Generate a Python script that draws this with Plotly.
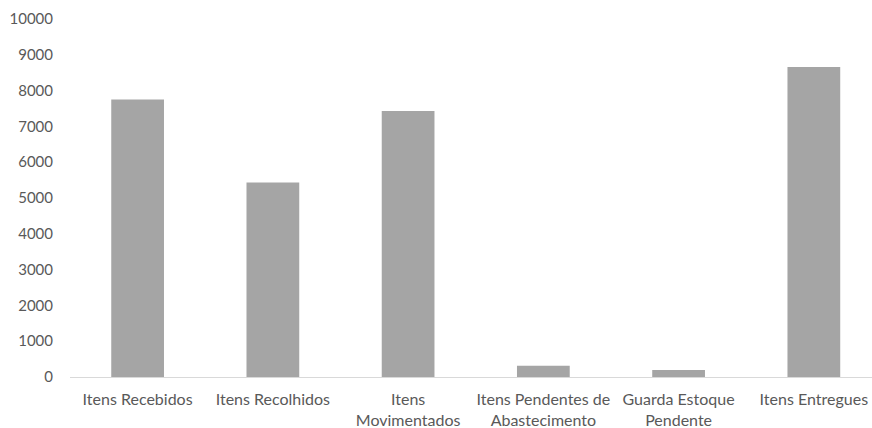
import plotly.graph_objects as go

categories = ["Itens Recebidos", "Itens Recolhidos", "Itens<br>Movimentados",
              "Itens Pendentes de<br>Abastecimento", "Guarda Estoque<br>Pendente", "Itens Entregues"]
values = [7750, 5430, 7430, 315, 195, 8660]
y_ticks = [0, 1000, 2000, 3000, 4000, 5000, 6000, 7000, 8000, 9000, 10000]
y_tick_text = [str(v) for v in y_ticks]

fig = go.Figure(go.Bar(x=list(range(len(categories))), y=values,
                       marker=dict(color="#a5a5a5", line=dict(width=0))))

fig.update_layout(
    width=872, height=428,
    margin=dict(l=70, r=0, t=19, b=51),
    paper_bgcolor="white", plot_bgcolor="white",
    bargap=0.61, showlegend=False,
    font=dict(family="Lato", size=15, color="#595959"),
)
fig.update_xaxes(tickvals=list(range(len(categories))), ticktext=categories,
                 range=[-0.5, 5.43], showgrid=False, zeroline=False,
                 showline=True, linecolor="#d9d9d9", linewidth=1, ticks="",
                 tickfont=dict(size=16), ticklabelstandoff=8)
fig.update_yaxes(range=[0, 10000], tickvals=y_ticks, ticktext=y_tick_text,
                 showgrid=False, zeroline=False,
                 showline=False, ticks="", ticklabelstandoff=16)

fig.write_html("out.html", config={"displayModeBar": False},
               post_script="document.body.style.margin='0';document.body.style.overflow='hidden';")
